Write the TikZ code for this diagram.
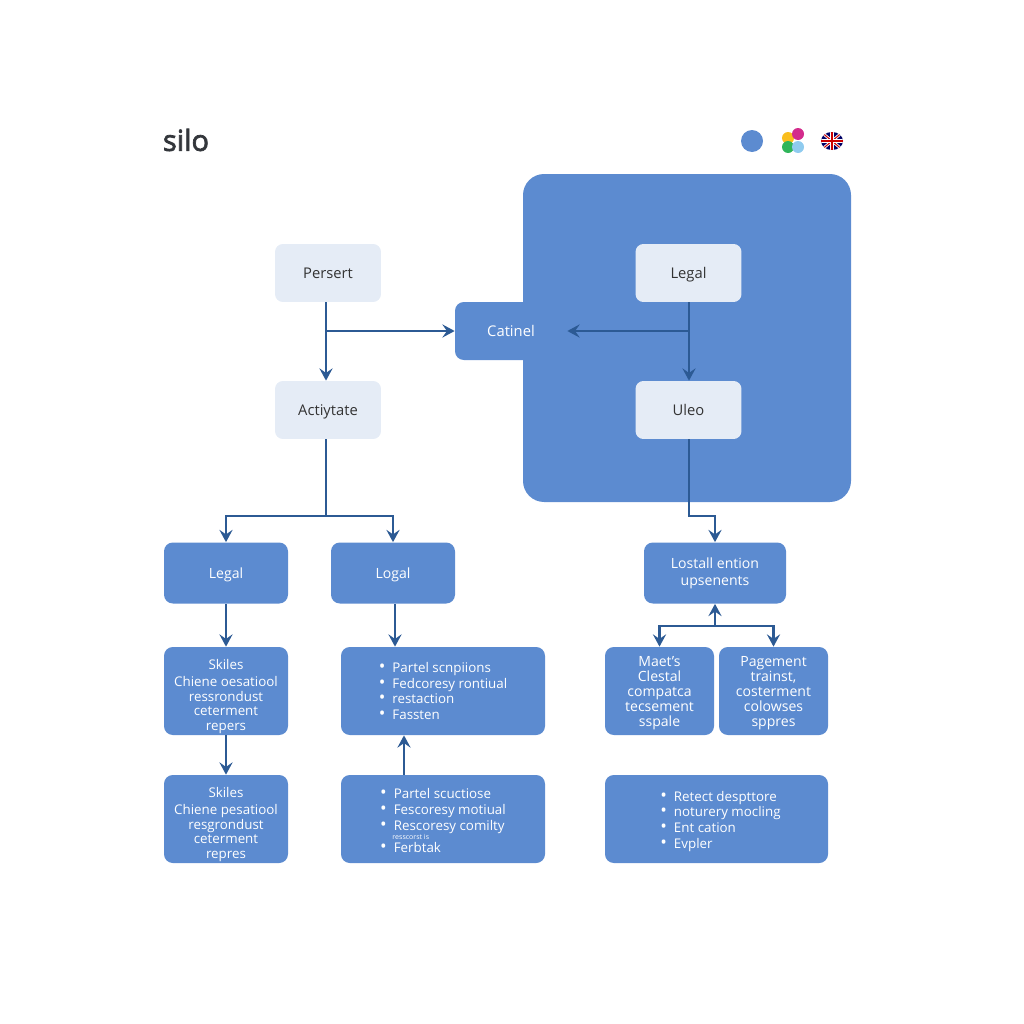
\documentclass[tikz,border=0pt]{standalone}
\usepackage{fontspec}
\setmainfont{Open Sans}
\newfontfamily\titlefont[FakeBold=2.5]{Open Sans}
\usetikzlibrary{arrows.meta}
\definecolor{boxblue}{HTML}{5C8BD0}
\definecolor{boxlight}{HTML}{E5ECF6}
\definecolor{flowblue}{HTML}{2C5A94}
\definecolor{titlegray}{HTML}{33363B}
\definecolor{dotyellow}{HTML}{F9BE1E}
\definecolor{dotpink}{HTML}{D32B8C}
\definecolor{dotgreen}{HTML}{2FB55A}
\definecolor{dotsky}{HTML}{8FCBEF}
\newcommand{\itm}{{\fontsize{10}{9}\selectfont\textbullet}\hspace{4pt}}
\tikzset{
  flow/.style={draw=flowblue, line width=1.25pt, -{Stealth[length=7pt,width=7.5pt,inset=2.6pt]}},
  link/.style={draw=flowblue, line width=1.25pt},
  lightbox/.style={fill=boxlight, rounded corners=4.5pt, text=black!80, font=\fontsize{8.4}{10}\selectfont, text height=7.5pt, text depth=1.6pt, minimum width=2.12cm, minimum height=1.16cm},
  bluebox/.style={fill=boxblue, rounded corners=5pt, text=white, font=\fontsize{8}{9.5}\selectfont, align=center, inner sep=0pt},
  onebox/.style={bluebox, text height=7.5pt, text depth=1.6pt},
  fivebox/.style={bluebox, font=\fontsize{7.6}{8.2}\selectfont},
  narrowbox/.style={bluebox, font=\fontsize{8}{8.6}\selectfont, minimum width=109*\u, minimum height=88*\u},
  listbox/.style={bluebox, align=left, font=\fontsize{7.6}{9}\selectfont}
}
\begin{document}
\begin{tikzpicture}[x=.02cm, y=-.02cm]
  \def\u{.02cm}
  \useasboundingbox (0,0) rectangle (1024,1024);
  \node[text=titlegray, inner sep=0pt, font=\titlefont\fontsize{16.5}{20}\selectfont] (title) at (186,140) {silo};
  % icons top right
  \fill[boxblue] (752,141) circle [radius=11];
  \fill[dotyellow] (788,138) circle [radius=6];
  \fill[dotpink] (798,134) circle [radius=6];
  \fill[dotgreen] (788,147) circle [radius=6];
  \fill[dotsky] (798,147) circle [radius=6];
  \begin{scope}
    \clip (832,141) ellipse [x radius=11, y radius=9];
    \fill[blue!40!black] (820,131) rectangle (844,151);
    \draw[white, line width=1.6pt] (820,131) -- (844,151) (820,151) -- (844,131);
    \draw[red!80!black, line width=.6pt] (820,131) -- (844,151) (820,151) -- (844,131);
    \draw[white, line width=2pt] (832,131) -- (832,151) (820,141) -- (844,141);
    \draw[red!80!black, line width=1pt] (832,131) -- (832,151) (820,141) -- (844,141);
  \end{scope}
  % big panel
  \node[fill=boxblue, rounded corners=12pt, minimum width=328*\u, minimum height=328*\u] (panel) at (687,338) {};
  \foreach \n/\x/\y/\t in {persert/328/273/Persert, activate/328/410/Actiytate, legaltop/688.5/273/Legal, uleo/688.5/410/Uleo} {
    \node[lightbox] (\n) at (\x,\y) {\t};
  }
  \node[onebox, font=\fontsize{8.4}{10}\selectfont, minimum width=112*\u, minimum height=58*\u] (catinel) at (511,331) {Catinel};
  % second row
  \foreach \n/\x/\t in {legalone/226/Legal, logal/393/Logal} {
    \node[onebox, minimum width=124*\u, minimum height=61*\u] (\n) at (\x,573) {\t};
  }
  \node[bluebox, minimum width=142*\u, minimum height=61*\u] (lostall) at (715,573) {Lostall ention\\upsenents};
  % third row
  \node[fivebox, minimum width=124*\u, minimum height=88*\u] (skilesone) at (226,691) {\rule{0pt}{12pt}Skiles\\[1.5pt]Chiene oesatiool\\ressrondust\\ceterment\\repers};
  \node[listbox, minimum width=204*\u, minimum height=88*\u] (partone) at (443,691) {\itm Partel scnpiions\\\itm Fedcoresy rontiual\\\itm restaction\\\itm Fassten};
  \node[narrowbox] (maets) at (659.5,691) {\rule{0pt}{8pt}Maet's\\Clestal\\compatca\\tecsement\\sspale};
  \node[narrowbox] (pagement) at (773.5,691) {\rule{0pt}{8pt}Pagement\\trainst,\\costerment\\colowses\\sppres};
  % fourth row
  \node[fivebox, minimum width=124*\u, minimum height=88*\u] (skilestwo) at (226,819) {\rule{0pt}{12pt}Skiles\\[1.5pt]Chiene pesatiool\\resgrondust\\ceterment\\repres};
  \node[listbox, minimum width=204*\u, minimum height=88*\u] (parttwo) at (443,819) {\rule{0pt}{7.7pt}\itm Partel scuctiose\\\itm Fescoresy motiual\\\itm Rescoresy comilty\\[-3.6pt]\hspace*{7pt}{\fontsize{4}{4}\selectfont resscorst is}\\[-1.7pt]\itm Ferbtak};
  \node[listbox, minimum width=223*\u, minimum height=88*\u] (retect) at (716.5,819) {\rule{0pt}{8.5pt}\hspace*{4.5pt}\itm Retect despttore\\\hspace*{4.5pt}\itm noturery mocling\\\hspace*{4.5pt}\itm Ent cation\\\hspace*{4.5pt}\itm Evpler};
  % connectors
  \coordinate (branchleft) at (326,331);
  \coordinate (branchright) at (689,331);
  \coordinate (forkleft) at (326,516);
  \coordinate (forklost) at (715,626);
  \draw[flow] ([xshift=-2*\u]persert.south) -- ([xshift=-2*\u]activate.north);
  \draw[flow] (branchleft) -- (catinel.west);
  \draw[flow] ([xshift=.5*\u]legaltop.south) -- ([xshift=.5*\u]uleo.north);
  \draw[flow] (branchright) -- (catinel.east);
  \draw[link] ([xshift=-2*\u]activate.south) -- (forkleft);
  \draw[flow] (forkleft) -| (legalone.north);
  \draw[flow] (forkleft) -| (logal.north);
  \draw[flow] ([xshift=.5*\u]uleo.south) |- ++(0,77) -| (lostall.north);
  \draw[flow] (legalone.south) -- (skilesone.north);
  \draw[flow] ([xshift=2*\u]logal.south) -- ([xshift=-48*\u]partone.north);
  \draw[flow] (skilesone.south) -- (skilestwo.north);
  \draw[flow] ([xshift=-39*\u]parttwo.north) -- ([xshift=-39*\u]partone.south);
  \draw[flow] (forklost) -- (lostall.south);
  \draw[flow] (forklost) -| (maets.north);
  \draw[flow] (forklost) -| (pagement.north);
\end{tikzpicture}
\end{document}
